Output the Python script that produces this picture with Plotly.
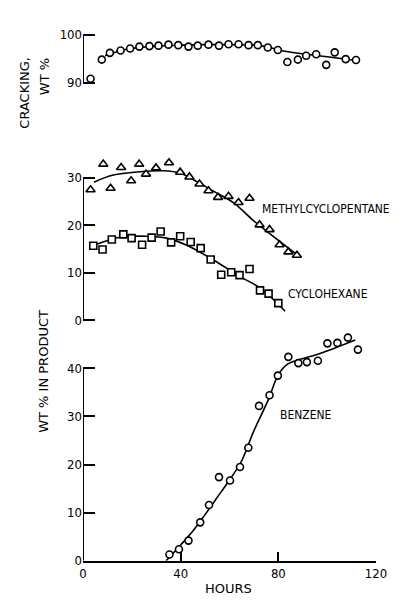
import plotly.graph_objects as go

# ---------------- data ----------------
crack_h = [3.1, 7.7, 11, 15.4, 19.3, 23.1, 27.2, 30.9, 35, 39, 43.2, 47, 51.4, 55.7, 59.6, 63.7,
           67.8, 71.6, 75.7, 79.8, 83.7, 88, 91.4, 95.5, 99.6, 103.1, 107.6, 111.8]
crack_v = [90.8, 94.8, 96.2, 96.7, 97.1, 97.5, 97.6, 97.7, 97.9, 97.8, 97.5, 97.7, 97.9, 97.7, 98.0, 98.0,
           97.8, 97.8, 97.3, 96.8, 94.3, 94.8, 95.6, 95.9, 93.7, 96.3, 94.9, 94.7]
crack_fit_h = [9, 15, 20, 30, 40, 50, 60, 70, 76, 80, 90, 100, 112]
crack_fit_v = [95.6, 96.6, 97.1, 97.6, 97.8, 97.9, 97.9, 97.8, 97.4, 96.8, 96.0, 95.4, 94.6]

mcp_h = [3.1, 8.3, 11.3, 15.6, 19.7, 23, 25.8, 29.9, 35.2, 39.8, 43.6, 47.7, 51.4, 55.3, 59.6,
         63.7, 68.2, 72.3, 76.4, 80.5, 84.1, 87.6]
mcp_v = [27.5, 32.9, 27.8, 32.2, 29.4, 32.9, 30.8, 32.1, 33.2, 31.2, 30.2, 28.7, 27.3, 25.9, 26.1,
         24.8, 25.7, 20.1, 19.1, 15.9, 14.4, 13.7]
mcp_fit_h = [4.5, 12.4, 23.4, 32.9, 39.8, 46.6, 53.4, 61.6, 69.8, 76.6, 88.2]
mcp_fit_v = [29.1, 30.6, 31.3, 31.5, 31.0, 29.2, 27.2, 24.8, 21.0, 18.2, 13.6]

chx_h = [4.2, 8, 11.8, 16.5, 19.9, 24.2, 28.1, 31.8, 36.1, 39.8, 44.1, 48.2, 52.3, 56.6, 60.7,
         64.1, 68.2, 72.5, 76, 80]
chx_v = [15.7, 14.9, 17.0, 18.1, 17.3, 15.9, 17.4, 18.7, 16.4, 17.7, 16.5, 15.2, 12.8, 9.6, 10.1,
         9.5, 10.8, 6.3, 5.6, 3.6]
chx_fit_h = [4.5, 15.2, 26.1, 34.3, 42.5, 53.4, 64.3, 72.5, 82.8]
chx_fit_v = [15.8, 17.5, 17.7, 17.3, 15.8, 12.7, 9.2, 6.8, 1.9]

bz_h = [35.4, 39.3, 43.2, 48, 51.6, 55.7, 60.2, 64.3, 67.7, 72.1, 76.4, 79.8, 84.1, 88.2, 91.7,
        96.2, 100.1, 104.2, 108.5, 112.6]
bz_v = [1.3, 2.4, 4.2, 8.0, 11.6, 17.4, 16.7, 19.5, 23.5, 32.2, 34.4, 38.5, 42.4, 41.1, 41.3,
        41.6, 45.2, 45.3, 46.4, 43.9]
bz_fit_h = [34, 40, 45, 50, 55, 60, 65, 69.8, 76, 79.8, 83.5, 89, 97.1, 111.5]
bz_fit_v = [0, 3.3, 6.2, 9.6, 13.2, 16.8, 20.8, 26.8, 33.6, 38.5, 40.8, 41.9, 43.1, 45.9]

x_ticks = [0, 40, 80, 120]
crack_ticks = [90, 100]
mid_ticks = [0, 10, 20, 30]
bz_ticks = [0, 10, 20, 30, 40]

# ---------------- figure ----------------
fig = go.Figure()
mk = dict(color="white", line=dict(color="black", width=1.6))


def add(xs, ys, fx, fy, sym, size, ax):
    fig.add_trace(go.Scatter(x=fx, y=fy, mode="lines", line=dict(color="black", width=1.6, shape="spline"),
                             xaxis="x" + ax, yaxis="y" + ax, hoverinfo="skip"))
    fig.add_trace(go.Scatter(x=xs, y=ys, mode="markers", cliponaxis=False,
                             marker=dict(symbol=sym, size=size, **mk), xaxis="x" + ax, yaxis="y" + ax))


add(crack_h, crack_v, crack_fit_h, crack_fit_v, "circle", 7, "")
add(mcp_h, mcp_v, mcp_fit_h, mcp_fit_v, "triangle-up", 8, "2")
add(chx_h, chx_v, chx_fit_h, chx_fit_v, "square", 7, "2")
add(bz_h, bz_v, bz_fit_h, bz_fit_v, "circle", 7, "3")

OFF = 8            # default page body margin
W, H = 401 - OFF, 613 - OFF
L = 83 - OFF

def py(p):         # reference pixel row -> paper y
    return 1 - (p - OFF) / H

def px(p):         # reference pixel column -> paper x
    return (p - 83) / 293

tickfont = dict(family="Liberation Sans Narrow, DejaVu Sans Condensed, Arial Narrow, sans-serif",
                size=13, color="black")

def yax(dom, rng, tv):
    return dict(domain=dom, range=rng, tickvals=tv, ticks="inside", ticklen=12, tickwidth=2,
                tickcolor="black", showgrid=False, zeroline=False, showline=False,
                tickfont=tickfont, fixedrange=True)

fig.update_layout(
    width=W, height=H, margin=dict(l=L, r=W - L - 293, t=0, b=0),
    plot_bgcolor="white", paper_bgcolor="white", showlegend=False,
    xaxis=dict(domain=[0, 1], range=[0, 120], visible=False, anchor="y"),
    xaxis2=dict(domain=[0, 1], range=[0, 120], visible=False, anchor="y2"),
    xaxis3=dict(domain=[0, 1], range=[0, 120], anchor="y3", tickvals=x_ticks, ticks="inside",
                ticklen=9, tickwidth=2, tickcolor="black", showline=True, linecolor="black",
                linewidth=2, showgrid=False, zeroline=False, tickfont=tickfont),
    yaxis=yax([py(85.9), py(27.1)], [89, 101], crack_ticks) | dict(anchor="x"),
    yaxis2=yax([py(327.8), py(153.8)], [-1, 35], mid_ticks) | dict(anchor="x2"),
    yaxis3=yax([py(568), py(332.8)], [0, 48], bz_ticks) | dict(anchor="x3"),
)

# axis spines spanning only the ticked range
for ax, tv in (("", crack_ticks), ("2", mid_ticks), ("3", bz_ticks)):
    fig.add_shape(type="line", xref="x" + ax, yref="y" + ax, x0=0, x1=0, y0=min(tv), y1=max(tv),
                  line=dict(color="black", width=2))

lab = dict(family="DejaVu Sans Condensed, DejaVu Sans, sans-serif", size=12, color="black")
for txt, xh, yv, ax in (("METHYLCYCLOPENTANE", 72.5, 23.4, "2"),
                        ("CYCLOHEXANE", 83.3, 5.6, "2"),
                        ("BENZENE", 80, 30.4, "3")):
    fig.add_annotation(text=txt, x=xh, y=yv, xref="x" + ax, yref="y" + ax, xanchor="left",
                       yanchor="middle", showarrow=False, font=lab)

ttl = dict(family="DejaVu Sans, sans-serif", size=13, color="black")
fig.add_annotation(text="CRACKING,", x=px(15), y=py(53), xref="paper", yref="paper",
                   textangle=-90, showarrow=False, font=ttl)
fig.add_annotation(text="WT %", x=px(35), y=py(54), xref="paper", yref="paper",
                   textangle=-90, showarrow=False, font=ttl)
fig.add_annotation(text="WT % IN PRODUCT", x=px(34), y=py(375), xref="paper", yref="paper",
                   textangle=-90, showarrow=False, font=ttl)
fig.add_annotation(text="HOURS", x=px(228), y=py(606), xref="paper", yref="paper",
                   showarrow=False, font=ttl)

fig.write_html("out.html")
